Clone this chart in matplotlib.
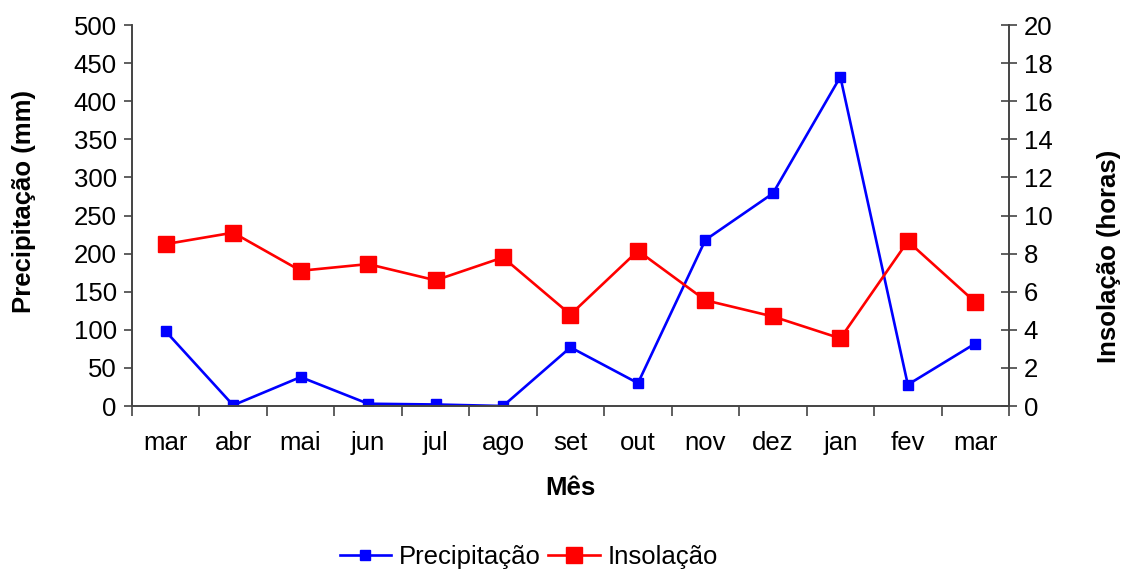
import matplotlib

matplotlib.use("Agg")
import matplotlib.pyplot as plt
import numpy as np

plt.rcParams["font.family"] = ["Liberation Sans", "DejaVu Sans"]

meses = ["mar", "abr", "mai", "jun", "jul", "ago", "set", "out", "nov", "dez", "jan", "fev", "mar"]
precipitacao = [98, 1, 38, 3, 2, 0, 77, 30, 218, 279, 432, 28, 82]
insolacao = [8.5, 9.1, 7.1, 7.45, 6.6, 7.8, 4.8, 8.15, 5.55, 4.7, 3.55, 8.65, 5.45]

FS = 18.5
x = np.arange(len(meses))

fig = plt.figure(figsize=(11.25, 5.75), dpi=100)
ax = fig.add_axes([0.1173, 0.2939, 0.7796, 0.6626])
ax2 = ax.twinx()

l1, = ax.plot(x, precipitacao, "-s", color="#0000ff", lw=1.9, markersize=7,
              label="Precipitação")
l2, = ax2.plot(x, insolacao, "-s", color="#ff0000", lw=1.9, markersize=11,
               label="Insolação")

ax.set_xlim(-0.5, len(meses) - 0.5)
ax.set_ylim(0, 500)
ax2.set_ylim(0, 20)
ax.set_yticks(np.arange(0, 501, 50))
ax2.set_yticks(np.arange(0, 21, 2))

ax.set_xticks(x)
ax.set_xticklabels(meses)
ax.set_xticks(np.arange(-0.5, len(meses)), minor=True)
ax.tick_params(axis="x", which="major", length=0, pad=18, labelsize=FS)
ax.tick_params(axis="x", which="minor", length=7, width=1.2, color="#444444")
ax.tick_params(axis="y", length=6, width=1.2, color="#444444", labelsize=FS, pad=5)
ax2.tick_params(axis="y", direction="inout", length=11, width=1.2, color="#444444",
                labelsize=FS, pad=5)

for a in (ax, ax2):
    a.spines["top"].set_visible(False)
    for s in ("left", "right", "bottom"):
        a.spines[s].set_color("#444444")
        a.spines[s].set_linewidth(1.2)

ax.set_xlabel("Mês", fontsize=FS, fontweight="bold", labelpad=15)
ax.set_ylabel("Precipitação (mm)", fontsize=FS, fontweight="bold", labelpad=27, y=0.538)
ax2.set_ylabel("Insolação (horas)", fontsize=FS, fontweight="bold", labelpad=32, y=0.394)

fig.legend(handles=[l1, l2], loc="center", bbox_to_anchor=(0.47, 0.031), ncol=2,
           frameon=False, fontsize=FS, handlelength=2.0, columnspacing=0.3,
           handletextpad=0.3)

fig.savefig("out.png")
